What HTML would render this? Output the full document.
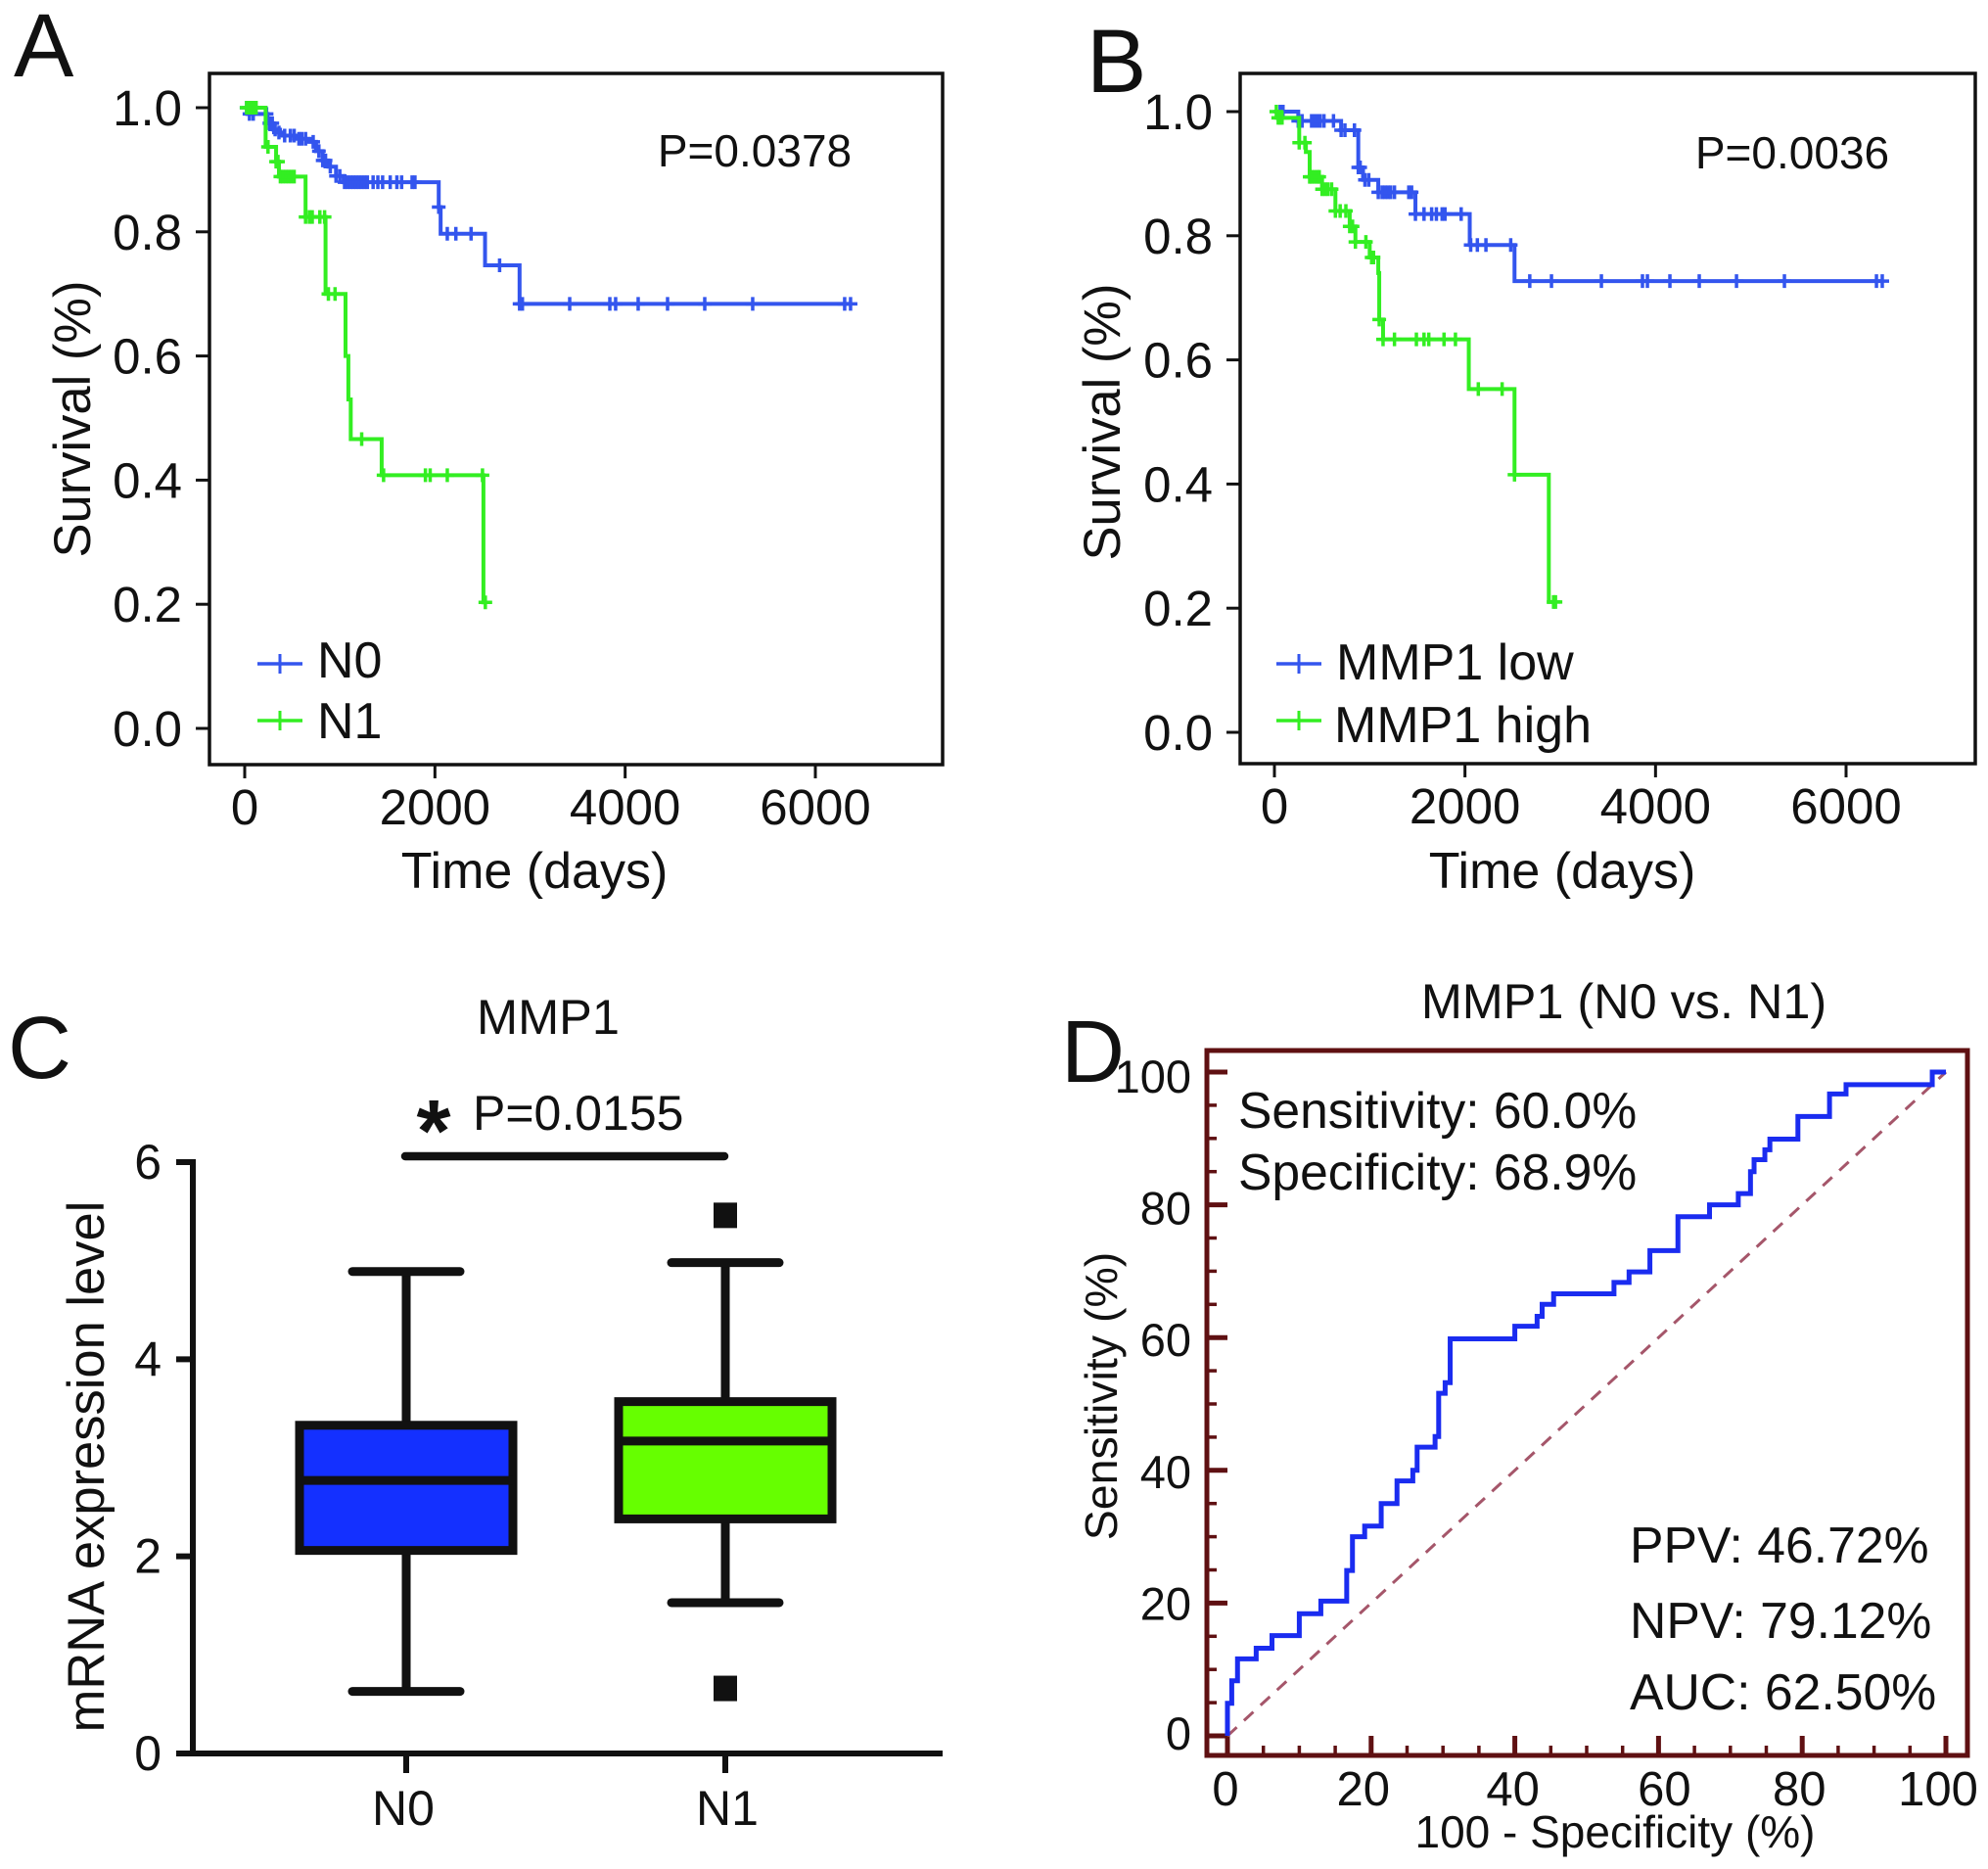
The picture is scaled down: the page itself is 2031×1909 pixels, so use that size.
<!DOCTYPE html>
<html><head><meta charset="utf-8"><title>MMP1 survival, expression and ROC figure</title>
<style>
html,body{margin:0;padding:0;background:#fff}
svg{display:block}
text{font-family:"Liberation Sans",sans-serif;fill:#111}
</style></head>
<body>
<svg id="fig" xmlns="http://www.w3.org/2000/svg" width="2031" height="1909" viewBox="0 0 2031 1909">
<rect width="2031" height="1909" fill="#fff"/>
<text x="14" y="78" font-size="92">A</text>
<text x="1110" y="94" font-size="92">B</text>
<text x="8" y="1101" font-size="90">C</text>
<text x="1084" y="1105" font-size="90">D</text>

<rect x="214" y="75" width="749" height="706" fill="none" stroke="#111" stroke-width="3.5"/>
<rect x="1267" y="75" width="751" height="705" fill="none" stroke="#111" stroke-width="3.5"/>
<g id="layerA"></g>
<g id="layerB"></g>
<g id="layerC"></g>
<g id="layerD"></g>

<text x="771" y="170" font-size="46" text-anchor="middle">P=0.0378</text>
<text x="1831" y="172" font-size="46" text-anchor="middle">P=0.0036</text>
<text x="546" y="907" font-size="52" text-anchor="middle">Time (days)</text>
<text x="1596" y="907" font-size="52" text-anchor="middle">Time (days)</text>
<text transform="translate(92,428) rotate(-90)" font-size="52.5" text-anchor="middle">Survival (%)</text>
<text transform="translate(1144,431) rotate(-90)" font-size="52.5" text-anchor="middle">Survival (%)</text>

<line x1="263" y1="678" x2="309" y2="678" stroke="#3355ee" stroke-width="3.5"/>
<line x1="286" y1="668" x2="286" y2="688" stroke="#3355ee" stroke-width="3"/>
<text x="324" y="692" font-size="52">N0</text>
<line x1="263" y1="736" x2="309" y2="736" stroke="#33ee22" stroke-width="3.5"/>
<line x1="286" y1="726" x2="286" y2="746" stroke="#33ee22" stroke-width="3"/>
<text x="324" y="754" font-size="52">N1</text>
<line x1="1304" y1="678" x2="1350" y2="678" stroke="#3355ee" stroke-width="3.5"/>
<line x1="1327" y1="668" x2="1327" y2="688" stroke="#3355ee" stroke-width="3"/>
<text x="1365" y="694" font-size="52">MMP1 low</text>
<line x1="1304" y1="736" x2="1350" y2="736" stroke="#33ee22" stroke-width="3.5"/>
<line x1="1327" y1="726" x2="1327" y2="746" stroke="#33ee22" stroke-width="3"/>
<text x="1363" y="758" font-size="52">MMP1 high</text>

<text x="560" y="1056" font-size="50.5" text-anchor="middle">MMP1</text>
<text x="443" y="1186" font-size="90" font-weight="bold" text-anchor="middle">*</text>
<text x="483" y="1154" font-size="50">P=0.0155</text>
<line x1="414" y1="1181" x2="740" y2="1181" stroke="#111" stroke-width="8.5" stroke-linecap="round"/>
<text transform="translate(106,1498) rotate(-90)" font-size="52.5" text-anchor="middle">mRNA expression level</text>

<text x="1659" y="1040" font-size="50.4" text-anchor="middle">MMP1 (N0 vs. N1)</text>
<text transform="translate(1141,1426) rotate(-90)" font-size="46.5" text-anchor="middle">Sensitivity (%)</text>
<text x="1650" y="1887" font-size="46" text-anchor="middle">100 - Specificity (%)</text>
<text x="1265" y="1152" font-size="51.6">Sensitivity: 60.0%</text>
<text x="1265" y="1215" font-size="51.6">Specificity: 68.9%</text>
<text x="1665" y="1596" font-size="51.7">PPV: 46.72%</text>
<text x="1665" y="1673" font-size="51.7">NPV: 79.12%</text>
<text x="1665" y="1746" font-size="51.7">AUC: 62.50%</text>
</svg>
<script>
// Panel A: Kaplan-Meier, N stage
var n0Times=[0,30,240,300,340,400,550,680,750,820,880,960,1040,2040,2060,2527,2890];
var n0Surv=[1,0.99,0.975,0.965,0.96,0.955,0.95,0.945,0.93,0.915,0.905,0.89,0.88,0.84,0.797,0.746,0.684];
var n0Censor=[20,50,90,230,260,290,320,360,420,480,520,570,600,640,720,780,820,850,900,960,1000,1050,1080,1110,1140,1170,1200,1230,1260,1290,1350,1400,1450,1530,1600,1650,1760,1790,2040,2130,2220,2380,2680,2890,2920,3417,3839,3900,4137,4446,4837,5341,6308,6370];
var n1Times=[0,220,330,360,640,850,1060,1090,1115,1440,2510];
var n1Surv=[1,0.937,0.913,0.889,0.824,0.70,0.60,0.53,0.466,0.408,0.203];
var n1Censor=[20,40,60,80,100,120,245,330,350,375,400,430,460,490,520,640,680,710,790,840,880,950,1230,1460,1900,1950,2130,2500,2530];
// Panel B: Kaplan-Meier, MMP1 level
var lowTimes=[0,250,700,880,930,1090,1480,2050,2520];
var lowSurv=[1,0.985,0.97,0.91,0.89,0.87,0.835,0.785,0.727];
var lowCensor=[60,90,250,290,390,420,450,480,520,620,700,740,840,880,900,950,990,1090,1130,1160,1190,1220,1260,1410,1440,1480,1570,1650,1700,1760,1790,1960,2060,2130,2220,2480,2680,2908,3432,3863,3915,4151,4459,4850,5353,6319,6380];
var highTimes=[0,30,260,330,370,500,640,790,850,1000,1090,1100,1140,2040,2520,2880];
var highSurv=[1,0.99,0.95,0.935,0.895,0.875,0.84,0.815,0.79,0.765,0.74,0.665,0.633,0.553,0.415,0.21];
var highCensor=[20,40,60,80,260,320,370,390,420,450,470,500,530,560,600,640,690,750,790,820,850,960,1020,1040,1100,1140,1260,1490,1570,1620,1780,1900,2140,2390,2520,2930,2950];
var survivalTicks=[0,0.2,0.4,0.6,0.8,1];
var survivalTickLabels=["0.0","0.2","0.4","0.6","0.8","1.0"];
var timeTicks=[0,2000,4000,6000];
// Panel C: box plot
var boxCategories=["N0","N1"];
var boxQ1=[2.06,2.38];
var boxMedian=[2.77,3.17];
var boxQ3=[3.33,3.57];
var whiskerLow=[0.63,1.53];
var whiskerHigh=[4.89,4.98];
var outlierValues=[[],[5.46,0.66]];
var exprTicks=[0,2,4,6];
// Panel D: ROC
var rocFpr=[0,0.6,1.4,4,6.2,10,13,16.6,17.4,19.1,21.4,23.6,25.8,26.4,28.9,29.4,30.3,31,40,43.1,43.8,45.4,53.8,55.9,58.8,62.7,67.1,71.1,72.8,73.3,74.8,75.5,79.4,83.8,86.1,98.1,100];
var rocTpr=[4.9,8.3,11.6,13.2,15.1,18.4,20.3,24.9,30,31.6,35,38.4,40,43.5,45.1,51.6,53.2,59.8,61.7,63.2,65,66.6,68.3,69.9,73.1,78.2,80,81.7,85,86.8,88.3,89.9,93.3,96.7,98.1,100,100];
var rocTicks=[0,20,40,60,80,100];
var rocMinorTicks=[5,10,15,25,30,35,45,50,55,65,70,75,85,90,95];

var NS="http://www.w3.org/2000/svg";
function mk(parent,tag,attrs,txt){
  var el=document.createElementNS(NS,tag);
  for(var k in attrs){el.setAttribute(k,attrs[k]);}
  if(txt!==undefined){el.textContent=txt;}
  parent.appendChild(el);
  return el;
}
function linear(d0,d1,r0,r1){return function(v){return r0+(v-d0)*(r1-r0)/(d1-d0);};}
function survivalAt(times,surv,t){
  var s=surv[0];
  for(var i=0;i<times.length;i++){if(times[i]<=t){s=surv[i];}}
  return s;
}
function drawSurvivalAxes(g,sx,sy,frameLeft,frameBottom,key){
  survivalTicks.forEach(function(v,i){
    var t=mk(g,"line",{x1:frameLeft-14,x2:frameLeft,y1:sy(v),y2:sy(v),stroke:"#111","stroke-width":3});
    
    
    var l=mk(g,"text",{x:frameLeft-28,y:sy(v)+18,"font-size":51,"text-anchor":"end"},survivalTickLabels[i]);
    
    
  });
  timeTicks.forEach(function(v){
    var t=mk(g,"line",{x1:sx(v),x2:sx(v),y1:frameBottom,y2:frameBottom+14,stroke:"#111","stroke-width":3});
    
    
    var l=mk(g,"text",{x:sx(v),y:frameBottom+61,"font-size":51,"text-anchor":"middle"},String(v));
    
    
  });
}
function drawSurvivalCurve(g,sx,sy,times,surv,censor,color,key){
  var d="M"+sx(times[0])+" "+sy(surv[0]);
  for(var i=1;i<times.length;i++){
    d+=" H"+sx(times[i])+" V"+sy(surv[i]);
  }
  var last=censor[censor.length-1];
  d+=" H"+sx(last);
  var p=mk(g,"path",{d:d,fill:"none",stroke:color,"stroke-width":4});
  
  
  censor.forEach(function(t){
    var s=survivalAt(times,surv,t),x=sx(t),y=sy(s);
    var c=mk(g,"path",{d:"M"+(x-7)+" "+y+" H"+(x+7)+" M"+x+" "+(y-7)+" V"+(y+7),fill:"none",stroke:color,"stroke-width":3.5});
    
    
  });
}
// Panel A
(function(){
  var g=document.getElementById("layerA");
  var sx=linear(0,6000,250,833),sy=linear(0,1,744,110);
  drawSurvivalAxes(g,sx,sy,214,781,"a");
  drawSurvivalCurve(g,sx,sy,n0Times,n0Surv,n0Censor,"#3355ee","n0");
  drawSurvivalCurve(g,sx,sy,n1Times,n1Surv,n1Censor,"#33ee22","n1");
})();
// Panel B
(function(){
  var g=document.getElementById("layerB");
  var sx=linear(0,6000,1302,1886),sy=linear(0,1,748,114);
  drawSurvivalAxes(g,sx,sy,1267,780,"b");
  drawSurvivalCurve(g,sx,sy,lowTimes,lowSurv,lowCensor,"#3355ee","mmp1-low");
  drawSurvivalCurve(g,sx,sy,highTimes,highSurv,highCensor,"#33ee22","mmp1-high");
})();
// Panel C
(function(){
  var g=document.getElementById("layerC");
  var sy=linear(0,6,1791,1187);
  var centers=[415,741],fills=["#1430ff","#66ff00"],labelShift=[-3,2];
  var ya=mk(g,"line",{x1:197,x2:197,y1:sy(6)-3,y2:sy(0)+3,stroke:"#111","stroke-width":6});
  
  
  var xa=mk(g,"line",{x1:180,x2:963,y1:sy(0),y2:sy(0),stroke:"#111","stroke-width":6});
  
  
  exprTicks.forEach(function(v){
    var t=mk(g,"line",{x1:180,x2:197,y1:sy(v),y2:sy(v),stroke:"#111","stroke-width":6});
    
    
    var l=mk(g,"text",{x:165,y:sy(v)+17,"font-size":50,"text-anchor":"end"},String(v));
    
    
  });
  boxCategories.forEach(function(cat,i){
    var c=centers[i];
    var t=mk(g,"line",{x1:c,x2:c,y1:sy(0),y2:sy(0)+20,stroke:"#111","stroke-width":6});
    
    
    var l=mk(g,"text",{x:c+labelShift[i],y:1864,"font-size":50,"text-anchor":"middle"},cat);
    
    
    var w=mk(g,"line",{x1:c,x2:c,y1:sy(whiskerLow[i]),y2:sy(whiskerHigh[i]),stroke:"#111","stroke-width":9});
    
    
    var cl=mk(g,"line",{x1:c-55,x2:c+55,y1:sy(whiskerLow[i]),y2:sy(whiskerLow[i]),stroke:"#111","stroke-width":9,"stroke-linecap":"round"});
    
    
    var ch=mk(g,"line",{x1:c-55,x2:c+55,y1:sy(whiskerHigh[i]),y2:sy(whiskerHigh[i]),stroke:"#111","stroke-width":9,"stroke-linecap":"round"});
    
    
    var b=mk(g,"rect",{x:c-109,width:218,y:sy(boxQ3[i]),height:sy(boxQ1[i])-sy(boxQ3[i]),fill:fills[i],stroke:"#111","stroke-width":9});
    
    
    var m=mk(g,"line",{x1:c-109,x2:c+109,y1:sy(boxMedian[i]),y2:sy(boxMedian[i]),stroke:"#111","stroke-width":9});
    
    
    outlierValues[i].forEach(function(o){
      var r=mk(g,"rect",{x:c-12,y:sy(o)-13,width:24,height:26,fill:"#111"});
      
      
    });
  });
})();
// Panel D
(function(){
  var g=document.getElementById("layerD");
  var sx=linear(0,100,1254,1988),sy=linear(0,100,1773,1095);
  var dark="#5f1012",L=1233,R=2010,T=1073,B=1793;
  var xLabelShift=[-2,-8,-2,6,-3,-8];
  var yLabelShift=[14,17,18,19,20,21];
  var f=mk(g,"rect",{x:L,y:T,width:R-L,height:B-T,fill:"none",stroke:dark,"stroke-width":5});
  
  
  rocTicks.forEach(function(v,i){
    var a=mk(g,"line",{x1:sx(v),x2:sx(v),y1:B,y2:B-20,stroke:dark,"stroke-width":5});
    
    
    var b=mk(g,"line",{x1:L,x2:L+21,y1:sy(v),y2:sy(v),stroke:dark,"stroke-width":5});
    
    
    var lx=mk(g,"text",{x:sx(v)+xLabelShift[i],y:1844,"font-size":49,"text-anchor":"middle"},String(v));
    
    
    var ly=mk(g,"text",{x:1217,y:sy(v)+yLabelShift[i],"font-size":47,"text-anchor":"end"},String(v));
    
    
  });
  rocMinorTicks.forEach(function(v){
    var a=mk(g,"line",{x1:sx(v),x2:sx(v),y1:B,y2:B-10,stroke:dark,"stroke-width":3.5});
    
    
    var b=mk(g,"line",{x1:L,x2:L+10,y1:sy(v),y2:sy(v),stroke:dark,"stroke-width":3.5});
    
    
  });
  var diag=mk(g,"line",{x1:sx(0),y1:sy(0),x2:sx(100),y2:sy(100),stroke:"#a5566a","stroke-width":3,"stroke-dasharray":"13 10"});
  
  
  var d="M"+sx(0)+" "+sy(0);
  rocFpr.forEach(function(x,i){
    d+=" H"+sx(x)+" V"+sy(rocTpr[i]);
  });
  var p=mk(g,"path",{d:d,fill:"none",stroke:"#1a2cf0","stroke-width":5});
  
  
})();
</script>
</body></html>
